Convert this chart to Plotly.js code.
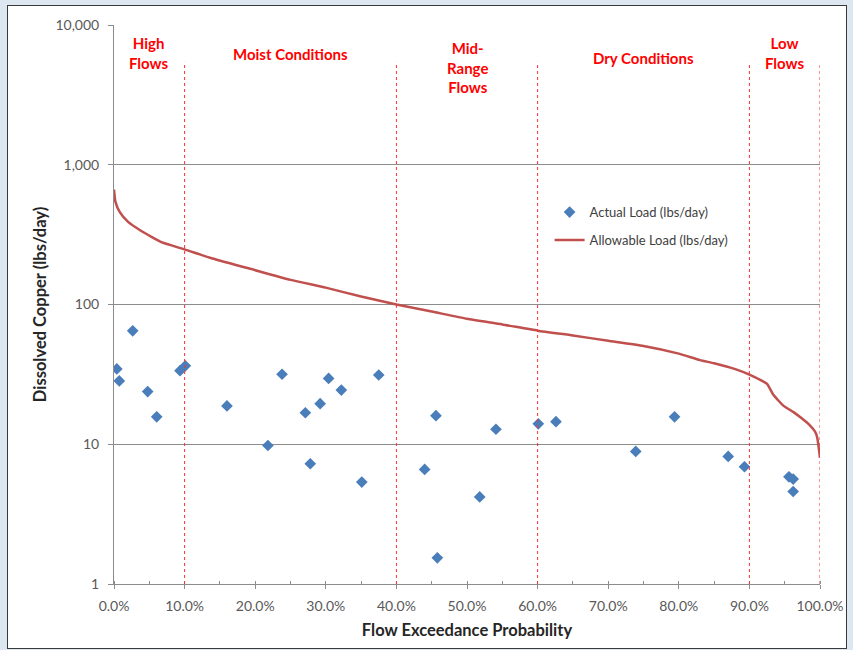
<!DOCTYPE html>
<html>
<head>
<meta charset="utf-8">
<script src="https://cdn.plot.ly/plotly-3.0.1.min.js"></script>
<style>
  html, body { margin: 0; padding: 0; background: #dde7f2; }
  #frame { position: absolute; left: 7px; top: 5px; width: 838px; height: 642px; border: 1px solid #3a3a3a; background: #ffffff; }
  #chart { width: 838px; height: 642px; }
</style>
</head>
<body>
<div id="frame"><div id="chart"></div></div>
<script>
// Actual load samples (flow exceedance fraction, lbs/day)
const actualX = [0.004, 0.0075, 0.0265, 0.0477, 0.0605, 0.0935, 0.101, 0.160, 0.218, 0.238, 0.271, 0.278, 0.292, 0.304, 0.322, 0.351, 0.375,
                 0.440, 0.456, 0.458, 0.518, 0.541, 0.601, 0.626, 0.739, 0.794, 0.870, 0.893, 0.956, 0.962, 0.962];
const actualY = [34.6, 28.4, 64.8, 23.8, 15.7, 33.6, 36.4, 18.8, 9.8, 31.7, 16.8, 7.25, 19.5, 29.6, 24.4, 5.36, 31.3,
                 6.6, 16.0, 1.54, 4.2, 12.8, 14.0, 14.5, 8.88, 15.7, 8.18, 6.9, 5.85, 5.63, 4.59];

// Allowable load curve (flow exceedance fraction, lbs/day)
const allowX = [0, 0.002, 0.008, 0.020, 0.037, 0.053, 0.068, 0.100, 0.136, 0.193, 0.25, 0.30, 0.35, 0.40, 0.45, 0.50, 0.55, 0.60,
                0.65, 0.70, 0.75, 0.80, 0.83, 0.85, 0.88, 0.90, 0.925, 0.933, 0.942, 0.948, 0.963, 0.975, 0.986, 0.993, 0.996, 1.0];
const allowY = [664, 545, 460, 390, 340, 305, 278, 248, 216, 180, 150, 132, 114, 100, 89, 79, 72, 65,
                60, 55, 50.5, 44.5, 40, 38, 34.5, 31.5, 27, 23, 20.3, 18.9, 16.9, 15.2, 13.6, 12.3, 11.2, 8.0];

// Flow regime boundaries and labels
const zoneBounds = [0.1, 0.4, 0.6, 0.9, 1.0];
const zoneLabels = ['High<br>Flows', 'Moist Conditions', 'Mid-<br>Range<br>Flows', 'Dry Conditions', 'Low<br>Flows'];
const zoneCenters = [0.05, 0.25, 0.50, 0.75, 0.95];
const zoneLabelTop = [0.988, 0.968, 0.978, 0.960, 0.988];

const traces = [
  {
    x: actualX, y: actualY, type: 'scatter', mode: 'markers',
    name: 'Actual Load (lbs/day)', legendgroup: 'a',
    marker: { symbol: 'diamond', size: 9, color: '#4a7ebb' }
  },
  {
    x: allowX, y: allowY, type: 'scatter', mode: 'lines',
    name: 'Allowable Load (lbs/day)', legendgroup: 'b',
    line: { color: '#c0504d', width: 2.5, shape: 'spline', smoothing: 0.5 }
  }
];

const shapes = zoneBounds.map(b => ({
  type: 'line', xref: 'x', yref: 'paper', x0: b, x1: b, y0: 0, y1: 0.934,
  line: { color: '#ff3030', width: 1, dash: 'dot' }
}));

const annotations = zoneLabels.map((t, i) => ({
  text: '<b>' + t + '</b>', xref: 'x', yref: 'paper', x: zoneCenters[i], y: zoneLabelTop[i],
  xanchor: 'center', yanchor: 'top', showarrow: false, align: 'center',
  font: { family: 'Lato, sans-serif', size: 15, color: '#ff0000' }
}));

const layout = {
  width: 838, height: 642,
  margin: { l: 106, r: 26, t: 19, b: 64 },
  paper_bgcolor: '#ffffff', plot_bgcolor: '#ffffff',
  font: { family: 'Lato, sans-serif', color: '#595959', size: 14 },
  showlegend: true,
  legend: {
    x: 0.617, y: 0.692, xanchor: 'left', yanchor: 'top',
    bgcolor: 'rgba(0,0,0,0)', font: { size: 13, color: '#404040' },
    traceorder: 'grouped', tracegroupgap: 8
  },
  xaxis: {
    range: [0, 1], dtick: 0.1, tickformat: '.1%',
    showgrid: false, zeroline: false,
    showline: true, linecolor: '#8c8c8c', linewidth: 1,
    ticks: 'outside', ticklen: 4, tickcolor: '#8c8c8c',
    minor: { dtick: 0.05, ticks: 'inside', ticklen: 3, tickcolor: '#8c8c8c', showgrid: false },
    ticklabelstandoff: 5,
    title: { text: '<b>Flow Exceedance Probability</b>', font: { size: 16.5, color: '#262626' }, standoff: 11 }
  },
  yaxis: {
    type: 'log', range: [0, 4], dtick: 1, tickformat: ',d',
    showgrid: true, gridcolor: '#8c8c8c', gridwidth: 1, zeroline: false,
    showline: true, linecolor: '#8c8c8c', linewidth: 1,
    ticks: 'outside', ticklen: 5, tickcolor: '#8c8c8c',
    ticklabelstandoff: 6,
    title: { text: '<b>Dissolved Copper (lbs/day)</b>', font: { size: 16.5, color: '#262626' }, standoff: 4 }
  },
  shapes: shapes,
  annotations: annotations
};

Plotly.newPlot('chart', traces, layout, { staticPlot: true });
</script>
</body>
</html>
